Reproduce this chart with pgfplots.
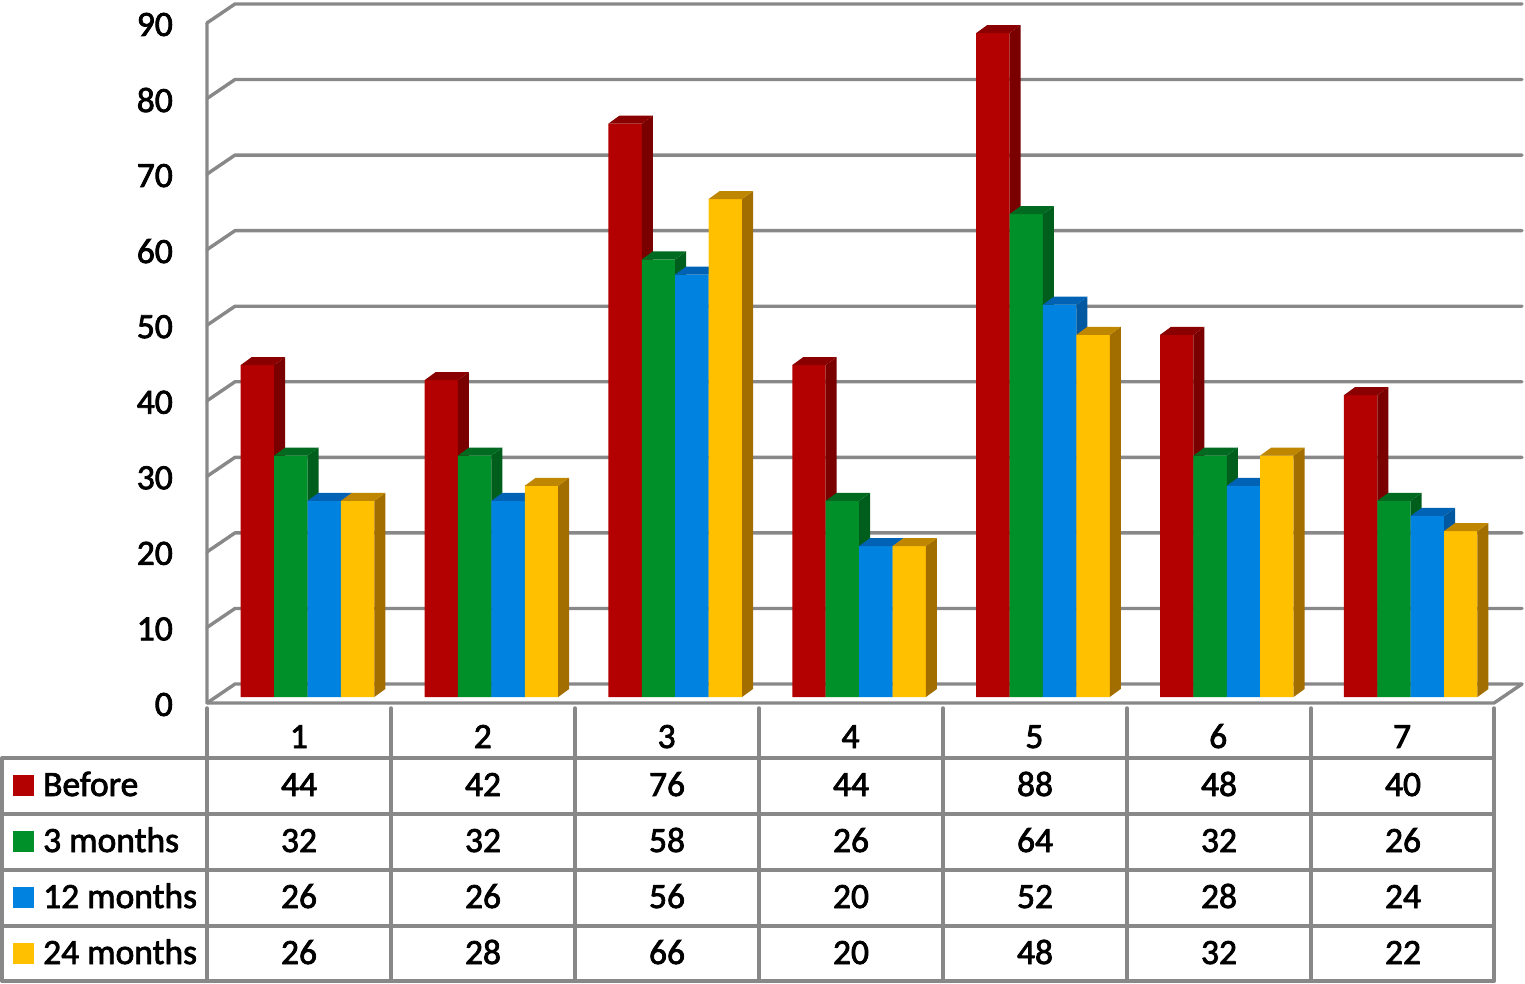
\documentclass[border=0pt]{standalone}
\usepackage{fontspec}
\setmainfont{Carlito}[FakeBold=2.2]
\usepackage{pgfplots}
\usepackage{pgfplotstable}
\pgfplotsset{compat=1.18}
\definecolor{gridc}{HTML}{888888}
\definecolor{redF}{HTML}{B30000}\definecolor{redS}{HTML}{7A0000}\definecolor{redT}{HTML}{8A0000}
\definecolor{greF}{HTML}{00902A}\definecolor{greS}{HTML}{005E1C}\definecolor{greT}{HTML}{006A20}
\definecolor{bluF}{HTML}{0083E0}\definecolor{bluS}{HTML}{0058A0}\definecolor{bluT}{HTML}{0062B4}
\definecolor{yelF}{HTML}{FFC000}\definecolor{yelS}{HTML}{A36E00}\definecolor{yelT}{HTML}{BF8600}
\pgfplotstableread{
x before m3 m12 m24
1 44 32 26 26
2 42 32 26 28
3 76 58 56 66
4 44 26 20 20
5 88 64 52 48
6 48 32 28 32
7 40 26 24 22
}\chartdata
\newcommand{\lab}{\fontsize{35.5}{40}\selectfont}
% column, bar shift in pt, front, side and top colour: one axis per series,
% because an axis draws marks after its bars
\newcommand{\depthbar}[5]{%
\begin{axis}[at={(215.6pt,-697pt)},anchor=south west,scale only axis,width=1287pt,height=679pt,
  xmin=0.5,xmax=7.5,ymin=0,ymax=90,clip=false,hide axis]
  \addplot[ybar, bar width=33.4pt, bar shift=#2pt, fill=#3, draw=none]
    table[x=x,y=#1]{\chartdata};
  \addplot[forget plot, scatter, only marks, mark=*, mark size=0pt, draw=none, fill=none,
    visualization depends on={rawy \as \barv},
    scatter/@pre marker code/.code={%
      \pgfmathsetmacro{\h}{\barv*7.544}%
      \pgfmathsetmacro{\l}{#2-16.7}%
      \pgfmathsetmacro{\m}{#2-5.7}%
      \pgfmathsetmacro{\r}{#2+16.7}%
      \pgfmathsetmacro{\rr}{#2+27.7}%
      \pgfmathsetmacro{\bb}{8-\h}%
      \pgfmathsetmacro{\b}{-\h}%
      \fill[#4] (\r pt,0pt) -- (\rr pt,8pt) -- (\rr pt,\bb pt) -- (\r pt,\b pt) -- cycle;
      \fill[#5] (\l pt,0pt) -- (\m pt,8pt) -- (\rr pt,8pt) -- (\r pt,0pt) -- cycle;
    },
    scatter/@post marker code/.code={}]
    table[x=x,y=#1]{\chartdata};
\end{axis}
}
\begin{document}
\begin{tikzpicture}[x=1pt,y=-1pt]
\useasboundingbox (0,0) rectangle (1525,983);
% walls
\begin{scope}[draw=gridc,line width=3.4pt,line cap=round,line join=round]
\foreach \v in {0,10,...,90}{
  \pgfmathsetmacro{\yf}{703-\v*7.556}
  \pgfmathsetmacro{\yb}{684-\v*7.556}
  \draw (207,\yf) -- (235,\yb) -- (1522,\yb);
}
\draw (207,23) -- (207,703) -- (1494,703) -- (1522,684);
% table
\foreach \y in {758,814,870,926,981} \draw (2,\y) -- (1494,\y);
\draw (2,758) -- (2,981);
\foreach \x in {207,391,575,759,943,1127,1311,1494} \draw (\x,708) -- (\x,981);
\end{scope}
% tick labels
\begin{axis}[at={(207pt,-703pt)},anchor=south west,scale only axis,width=1287pt,height=680pt,
  xmin=0.5,xmax=7.5,ymin=0,ymax=90,clip=false,
  axis line style={draw=none},major tick length=0pt,
  xtick={1,...,7},ytick={0,10,...,90},
  /pgf/number format/assume math mode=true,
  tick label style={font=\lab,inner sep=0pt},
  yticklabel style={anchor=east,xshift=-34pt,yshift=-1.5pt},
  xticklabel style={anchor=base,yshift=-45pt}]
\addplot[draw=none,forget plot] coordinates {(1,0)};
\end{axis}
% bars
\depthbar{before}{-50.1}{redF}{redS}{redT}
\depthbar{m3}{-16.7}{greF}{greS}{greT}
\depthbar{m12}{16.7}{bluF}{bluS}{bluT}
\depthbar{m24}{50.1}{yelF}{yelS}{yelT}
% data table
\foreach \col/\yb in {before/796,m3/852,m12/908,m24/964}{
  \foreach \i in {0,...,6}{
    \pgfplotstablegetelem{\i}{\col}\of\chartdata
    \pgfmathsetmacro{\xc}{299+184*\i}
    \node[anchor=base,inner sep=0pt,font=\lab] at (\xc,\yb) {\pgfplotsretval};
  }
}
\foreach \n/\c/\yt/\yb in {Before/redF/775/796,3 months/greF/831/852,12 months/bluF/887/908,24 months/yelF/943/964}{
  \fill[\c] (13,\yt) rectangle (34,\yt+21);
  \node[anchor=base west,inner sep=0pt,font=\lab] at (43,\yb) {\n};
}
\end{tikzpicture}
\end{document}
